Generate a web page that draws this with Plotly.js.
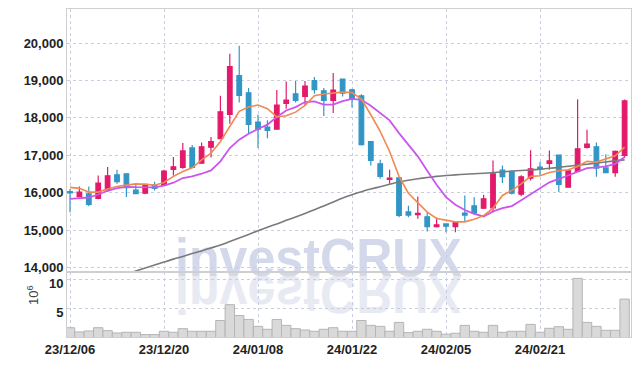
<!DOCTYPE html>
<html><head><meta charset="utf-8">
<script src="https://cdn.plot.ly/plotly-3.0.1.min.js"></script>
<style>html,body{margin:0;padding:0;background:#fff}#chart{width:639px;height:366px}</style>
</head><body><div id="chart"></div>
<script>
const dates = ["23/12/06","23/12/07","23/12/08","23/12/11","23/12/12","23/12/13","23/12/14","23/12/15","23/12/18","23/12/19",
"23/12/20","23/12/21","23/12/22","23/12/26","23/12/27","23/12/28","24/01/02","24/01/03","24/01/04","24/01/05",
"24/01/08","24/01/09","24/01/10","24/01/11","24/01/12","24/01/15","24/01/16","24/01/17","24/01/18","24/01/19",
"24/01/22","24/01/23","24/01/24","24/01/25","24/01/26","24/01/29","24/01/30","24/01/31","24/02/01","24/02/02",
"24/02/05","24/02/06","24/02/07","24/02/08","24/02/13","24/02/14","24/02/15","24/02/16","24/02/19","24/02/20",
"24/02/21","24/02/22","24/02/23","24/02/26","24/02/27","24/02/28","24/02/29","24/03/04","24/03/05","24/03/06"];
const openP = [16030,15900,15975,15850,16080,16480,16510,16070,15990,16205,16205,16625,16680,17200,16795,17220,17450,18095,19130,18670,
17890,17755,17700,18390,18645,18575,18995,18725,18470,19040,18750,18590,17365,16775,16360,16400,15495,15415,15360,15100,
15170,15100,15460,15655,15590,15600,16605,16560,15965,16390,16685,16785,17010,16150,16570,17210,17230,16665,16540,17000];
const highP = [16100,16170,16170,16460,16690,16615,16520,16210,16240,16295,16615,16955,17330,17275,17345,17490,18590,19715,19930,18800,
18085,17935,18745,18975,18985,18985,19090,18800,19200,19050,18780,18635,17375,16885,16615,16410,15655,15905,15475,15340,
15175,15220,15930,15885,15950,16865,16730,16570,16470,17140,16820,17130,17020,16600,18500,17685,17345,17030,17130,18495];
const lowP = [15480,15880,15640,15830,16030,16240,15890,15960,15960,16060,16190,16465,16640,16660,16770,16945,17430,17845,18410,17575,
17195,17460,17690,18245,18410,18330,18645,18050,18130,18570,18280,17265,16730,16375,16240,15350,15350,15310,14970,15075,
14950,14950,15235,15415,15565,15475,16260,15955,15910,16330,16465,16615,16020,16140,16560,17185,16430,16520,16430,16930];
const closeP = [16000,16020,15690,16260,16455,16300,16135,15975,16225,16115,16580,16695,17120,16680,17230,17365,18165,19370,18600,17825,
17700,17665,18345,18475,18470,18850,18755,18470,18745,18660,18510,17285,16865,16440,16395,15395,15405,15450,15100,15145,
15110,15205,15405,15460,15840,16510,16435,15990,16430,16640,16625,16855,16225,16590,17175,17300,16660,16540,17110,18455];
const ma5 = [16145,16120,16020,16020,16100,16170,16205,16240,16230,16205,16275,16440,16570,16670,16880,17060,17370,17775,18175,18290,
18345,18245,18030,18060,18155,18335,18595,18640,18675,18690,18680,18505,18085,17640,17105,16440,15990,15725,15485,15315,
15260,15225,15225,15295,15390,15590,15930,16065,16240,16440,16455,16545,16590,16615,16705,16840,16820,16900,16990,17220];
const ma10 = [15840,15860,15875,15955,16055,16125,16160,16150,16145,16145,16195,16270,16395,16440,16510,16600,16840,17195,17420,17580,
17705,17820,18025,18200,18290,18425,18440,18355,18355,18450,18510,18485,18325,18130,17935,17595,17285,16975,16590,16215,
15885,15680,15540,15440,15370,15505,15590,15645,15800,15955,16115,16280,16370,16465,16570,16660,16680,16705,16775,16955];
const ma60 = [null,null,null,null,null,null,13830,13910,13990,14070,14150,14230,14300,14380,14450,14530,14605,14700,14795,14890,
14985,15080,15170,15265,15355,15450,15550,15650,15755,15860,15950,16030,16100,16165,16230,16290,16335,16375,16410,16440,
16462,16480,16495,16510,16522,16540,16560,16580,16595,16612,16630,16655,16680,16710,16740,16765,16795,16825,16855,16880];
const volume = [1.76,1.02,1.19,1.76,1.25,0.85,0.97,0.97,0.57,0.57,1.14,0.97,1.59,1.14,1.14,1.14,3.0,5.74,3.86,3.18,
1.99,1.48,3.18,2.16,1.59,1.36,1.14,1.48,1.76,1.14,1.14,3.0,2.16,1.99,1.14,2.67,0.91,1.14,1.48,1.14,
0.63,0.80,2.16,1.14,0.97,2.16,0.97,1.14,1.14,2.33,0.97,1.65,1.93,1.48,10.28,2.67,1.99,1.31,1.31,6.7];
const priceTicks = [14000,15000,16000,17000,18000,19000,20000];
const priceTickText = ["14,000","15,000","16,000","17,000","18,000","19,000","20,000"];
const volTicks = [5,10];
const volTickText = ["5","10"];
const xTickVals = ["23/12/06","23/12/20","24/01/08","24/01/22","24/02/05","24/02/21"];

const UP = '#e31a6b', DOWN = '#3196c6';
const labelFont = {family: '"Liberation Sans Narrow", "Liberation Sans", sans-serif', size: 13, color: '#222', weight: 700};
const gridColor = '#c9cde0';
const frameColor = '#cfcfcf';

const traces = [
  {type:'bar', x:dates, y:volume, xaxis:'x', yaxis:'y2', marker:{color:'#d9d9d9', line:{color:'#b5b5b5', width:1}}, hoverinfo:'skip'},
  {type:'scatter', mode:'lines', x:dates, y:ma60, line:{color:'#7a7a7a', width:1.6, shape:'spline', smoothing:0.6}, connectgaps:false},
  {type:'scatter', mode:'lines', x:dates, y:ma10, line:{color:'#cc55ee', width:1.8}},
  {type:'scatter', mode:'lines', x:dates, y:ma5, line:{color:'#ee8a52', width:1.6}},
  {type:'candlestick', x:dates, open:openP, high:highP, low:lowP, close:closeP, xaxis:'x', yaxis:'y',
   increasing:{line:{color:UP, width:1.2}, fillcolor:UP},
   decreasing:{line:{color:DOWN, width:1.2}, fillcolor:DOWN}, whiskerwidth:0}
];

const svg = '<svg xmlns="http://www.w3.org/2000/svg" width="300" height="100" viewBox="0 0 300 100">' +
  '<g transform="translate(0,102) scale(1,-1)"><text x="5" y="51" font-family="Liberation Sans, Arial, sans-serif" font-weight="bold" font-size="54" fill="#e8eaf3" textLength="287" lengthAdjust="spacingAndGlyphs">investCRUX</text></g>' +
  '<text x="5" y="51" font-family="Liberation Sans, Arial, sans-serif" font-weight="bold" font-size="54" fill="#d3d8ea" textLength="287" lengthAdjust="spacingAndGlyphs">investCRUX</text>' +
  '</svg>';

const layout = {
  width:639, height:366,
  margin:{l:67, r:8, t:9, b:29},
  paper_bgcolor:'#fff', plot_bgcolor:'rgba(0,0,0,0)',
  showlegend:false, boxgap:0.3, bargap:0,
  xaxis:{type:'category', range:[-0.32,59.68], tickvals:xTickVals, ticktext:xTickVals, anchor:'y2',
    rangeslider:{visible:false}, showgrid:true, gridcolor:gridColor, griddash:'dot', gridwidth:1,
    showline:true, linecolor:frameColor, linewidth:1, mirror:'all', ticks:'', tickfont:labelFont, zeroline:false},
  yaxis:{domain:[0.199,1], range:[13893,20909], tickvals:priceTicks, ticktext:priceTickText,
    showgrid:true, gridcolor:gridColor, griddash:'dot', gridwidth:1, showline:true, linecolor:frameColor, mirror:true,
    ticks:'', tickfont:labelFont, zeroline:false},
  yaxis2:{domain:[0,0.199], range:[0.15,11.43], tickvals:volTicks, ticktext:volTickText, ticklabelshift:3,
    showgrid:true, gridcolor:gridColor, griddash:'dot', gridwidth:1, showline:true, linecolor:frameColor, mirror:true,
    ticks:'', tickfont:labelFont, zeroline:false},
  annotations:[{xref:'paper', yref:'paper', x:-0.0603, y:0.128, xanchor:'center', yanchor:'middle', text:'10<sup>6</sup>', textangle:-90, showarrow:false,
    font:{family:'"Liberation Sans", sans-serif', size:13, color:'#444'}}],
  images:[{source:'data:image/svg+xml;charset=utf-8,' + encodeURIComponent(svg), xref:'paper', yref:'paper',
    x:0.1826, y:0.3415, sizex:0.532, sizey:0.305, xanchor:'left', yanchor:'top', sizing:'stretch', layer:'below'}]
};
Plotly.newPlot('chart', traces, layout, {displayModeBar:false, staticPlot:true});
</script></body></html>
